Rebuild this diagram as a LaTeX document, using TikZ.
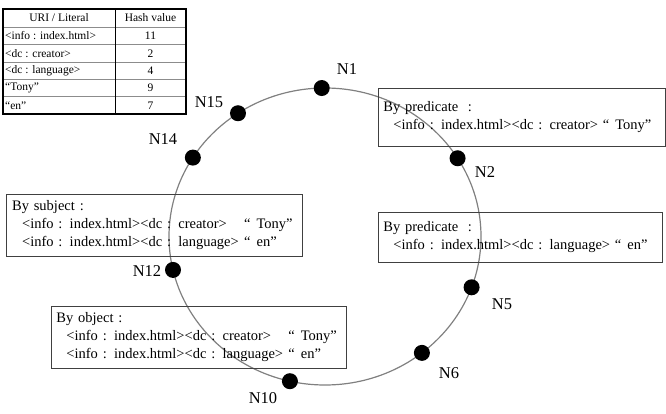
\documentclass[tikz,border=0pt]{standalone}
\usepackage{fontspec}
\setmainfont{Liberation Serif}
\newlength\tripw
\setlength\tripw{222pt}
\newcommand{\trip}[2]{\hspace*{10pt}\makebox[\tripw][l]{#1}#2}

\begin{document}
\begin{tikzpicture}[x=1pt, y=1pt,
    ring/.style={draw=gray, line width=1.2pt},
    peer/.style={circle, fill=black, minimum size=16pt, inner sep=0pt},
    peerlabel/.style={font=\fontsize{16.5}{18}\selectfont},
    infobox/.style={draw=black!75, line width=0.8pt, anchor=north west, align=left,
      inner ysep=0pt, inner xsep=5pt, font=\fontsize{14.5}{18}\selectfont},
    cell/.style={font=\fontsize{11.5}{13}\selectfont, inner sep=0pt}]

  \useasboundingbox (0,0) rectangle (666,-414);

  % Draw the hash table
  \draw[black!45, line width=0.6pt] (3,-27) -- (186,-27);
  \draw[black!45, line width=0.6pt] (3,-44.5) -- (186,-44.5);
  \draw[black!45, line width=0.6pt] (3,-62) -- (186,-62);
  \draw[black!45, line width=0.6pt] (3,-79) -- (186,-79);
  \draw[black!45, line width=0.6pt] (3,-96.5) -- (186,-96.5);
  \draw[line width=1pt] (115,-9) -- (115,-114);
  \draw[line width=1.3pt] (3,-9) rectangle (186,-114);

  \node[cell] (uri) at (59,-18) {URI / Literal};
  \node[cell] (hash) at (150.5,-18) {Hash value};
  \node[cell, anchor=west] (k1) at (5,-35.75) {<info : index.html>};
  \node[cell] (v1) at (150.5,-35.75) {11};
  \node[cell, anchor=west] (k2) at (5,-53.25) {<dc : creator>};
  \node[cell] (v2) at (150.5,-53.25) {2};
  \node[cell, anchor=west] (k3) at (5,-70.5) {<dc : language>};
  \node[cell] (v3) at (150.5,-70.5) {4};
  \node[cell, anchor=west] (k4) at (5,-87.75) {“Tony”};
  \node[cell] (v4) at (150.5,-87.75) {9};
  \node[cell, anchor=west] (k5) at (5,-105.25) {“en”};
  \node[cell] (v5) at (150.5,-105.25) {7};

  % Draw the ring
  \coordinate (ctr) at (325,-236.5);
  \draw[ring] (ctr) ellipse [x radius=156pt, y radius=148.5pt];

  % Draw the peers on the ring
  \node[peer] (n1) at ([shift={(91.2:156pt and 148.5pt)}]ctr) {};
  \node[peer] (n2) at ([shift={(31.8:156pt and 148.5pt)}]ctr) {};
  \node[peer] (n5) at ([shift={(340:156pt and 148.5pt)}]ctr) {};
  \node[peer] (n6) at ([shift={(308.4:156pt and 148.5pt)}]ctr) {};
  \node[peer] (n10) at ([shift={(257:156pt and 148.5pt)}]ctr) {};
  \node[peer] (n12) at ([shift={(193:156pt and 148.5pt)}]ctr) {};
  \node[peer] (n14) at ([shift={(147.9:156pt and 148.5pt)}]ctr) {};
  \node[peer] (n15) at ([shift={(123.9:156pt and 148.5pt)}]ctr) {};

  \node[peerlabel] (l1) at (347,-69) {N1};
  \node[peerlabel] (l2) at (485,-172) {N2};
  \node[peerlabel] (l5) at (502,-304) {N5};
  \node[peerlabel] (l6) at (449,-373) {N6};
  \node[peerlabel] (l10) at (263,-398) {N10};
  \node[peerlabel] (l12) at (147,-271) {N12};
  \node[peerlabel] (l14) at (163,-139) {N14};
  \node[peerlabel] (l15) at (209,-102) {N15};

  % Draw the index boxes
  \node[infobox, text width=277pt, minimum height=58pt] (pred1) at (378,-88)
    {By predicate\ \ :\\\hspace*{10pt}<info : index.html><dc : creator>\ “\hspace{6pt}Tony”};
  \node[infobox, text width=274pt, minimum height=50pt] (pred2) at (378,-212)
    {By predicate\ \ :\\\hspace*{10pt}<info : index.html><dc : language>\ “\hspace{6pt}en”};
  \node[infobox, inner xsep=5.7pt, text width=284.6pt, minimum height=62pt] (subj) at (6,-194)
    {By subject :\\\trip{<info : index.html><dc : creator>}{“\hspace{6pt}Tony”}\\
     \trip{<info : index.html><dc : language>}{“\hspace{6pt}en”}};
  \node[infobox, text width=285pt, minimum height=62pt] (obj) at (51,-306)
    {By object :\\\trip{<info : index.html><dc : creator>}{“\hspace{6pt}Tony”}\\
     \trip{<info : index.html><dc : language>}{“\hspace{6pt}en”}};

\end{tikzpicture}
\end{document}
